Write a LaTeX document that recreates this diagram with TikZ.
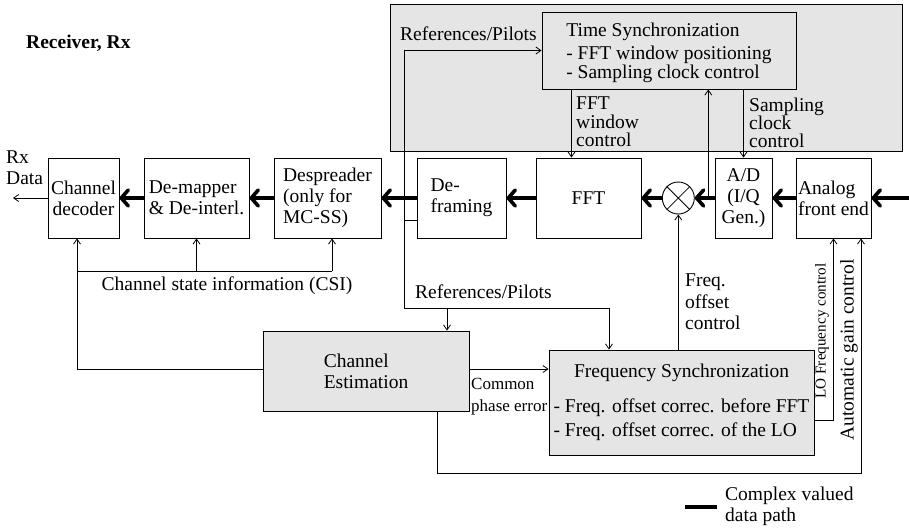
\documentclass[tikz,border=0pt]{standalone}
\usepackage{fontspec}
\setmainfont{Liberation Serif}
\usetikzlibrary{arrows.meta}
\begin{document}
\begin{tikzpicture}[x=1pt,y=-1pt,
  every node/.style={font=\fontsize{19.5}{21}\selectfont, inner sep=2pt},
  blk/.style={draw, line width=0.9pt, fill=white, align=left},
  gblk/.style={blk, fill=gray!20},
  sig/.style={line width=0.8pt},
  sigar/.style={sig, -{Straight Barb[length=5pt,width=7pt]}},
  dp/.style={line width=3.6pt, -{Straight Barb[length=7pt,width=16pt,round]}},
  lbl/.style={align=left, anchor=west},
]
\useasboundingbox (0,0) rectangle (909,531);

% time synchronization region
\node[draw, line width=0.9pt, fill=gray!20, minimum width=512pt, minimum height=147pt, inner sep=0pt] (tsreg) at (646,77.5) {};
\node[gblk, minimum width=254pt, minimum height=77pt, font=\fontsize{19.5}{19.5}\selectfont] (ts) at (669,50.5)
  {\rule{0pt}{19pt}Time Synchronization\\[3pt]- FFT window positioning\\- Sampling clock control};

% data path row
\node[blk, align=center, minimum width=71pt, minimum height=80pt] (dec) at (83.5,198) {Channel\\decoder};
\node[blk, minimum width=105pt, minimum height=80pt] (demap) at (196.5,198) {De-mapper\\\& De-interl.};
\node[blk, minimum width=107pt, minimum height=80pt] (desp) at (327.5,198) {Despreader\\(only for\\MC-SS)};
\node[blk, minimum width=89pt, minimum height=80pt] (defr) at (461.5,198) {De-\\framing};
\node[blk, minimum width=105pt, minimum height=80pt] (fft) at (588.5,198) {FFT};
\node[draw, circle, line width=0.9pt, fill=white, minimum size=32pt, inner sep=0pt] (mult) at (678.3,198) {};
\draw[line width=0.8pt] (mult.north west) -- (mult.south east) (mult.north east) -- (mult.south west);
\node[blk, align=center, minimum width=57pt, minimum height=80pt] (ad) at (743.5,198) {A/D\\(I/Q\\Gen.)};
\node[blk, minimum width=75pt, minimum height=80pt] (afe) at (833.5,198) {Analog\\front end};

% lower blocks
\node[gblk, minimum width=206pt, minimum height=80pt] (ce) at (366,371) {Channel\\Estimation};
\node[gblk, minimum width=265pt, minimum height=105pt] (fs) at (681.5,402.5)
  {\begin{tabular}{@{}l@{}}\multicolumn{1}{@{}c@{}}{Frequency Synchronization}\\[14pt]
   - Freq. offset correc. before FFT\\[3pt]
   - Freq. offset correc. of the LO\end{tabular}};

% labels
\node[anchor=west, font={\fontsize{19.5}{21}\selectfont\bfseries}] (title) at (24,43) {Receiver, Rx};
\node[lbl] (rxd) at (4,167.5) {Rx\\Data};
\node[lbl] (refs1) at (398,34) {References/Pilots};
\node[lbl, font=\fontsize{19.5}{18.5}\selectfont] (fwc) at (574,122) {FFT\\window\\control};
\node[lbl, font=\fontsize{19.5}{18}\selectfont] (scc) at (747,123) {Sampling\\clock\\control};
\node[lbl, font=\fontsize{19.5}{21.7}\selectfont] (foc) at (683,302) {Freq.\\offset\\control};
\node (csi) at (227,286) {Channel state information (CSI)};
\node[lbl] (refs2) at (413,292) {References/Pilots};
\node[lbl, font=\fontsize{17}{22}\selectfont] (cpe) at (469,397) {Common\\phase error};
\node[rotate=90, font=\fontsize{15.2}{16}\selectfont] (lofc) at (822,331) {LO Frequency control};
\node[rotate=90] (agc) at (849,350) {Automatic gain control};

% legend
\coordinate (lg1) at (685,507);
\coordinate (lg2) at (717,507);
\draw[line width=3.6pt] (lg1) -- (lg2);
\node[lbl] (lgt) at (723,506) {Complex valued\\data path};

% data path connectors
\coordinate (in) at (909,198);
\draw[dp] (in) -- (afe.east);
\draw[dp] (afe.west) -- (ad.east);
\draw[dp] (ad.west) -- (mult.east);
\draw[dp] (mult.west) -- (fft.east);
\draw[dp] (fft.west) -- (defr.east);
\draw[dp] (defr.west) -- (desp.east);
\draw[dp] (desp.west) -- (demap.east);
\draw[dp] (demap.west) -- (dec.east);
\coordinate (rxout) at (13,198);
\draw[sigar] (dec.west) -- (rxout);

% references / pilots
\coordinate (rp) at (404,308);
\coordinate (tap) at (404,220);
\coordinate (rq) at (609,308);
\coordinate (rce) at (447,308);
\draw[sigar] (rp) |- (ts.west);
\draw[sig] (tap) -- (tap -| defr.west);
\draw[sig] (rp) -- (rq);
\draw[sigar] (rq) -- (rq |- fs.north);
\draw[sigar] (rce) -- (rce |- ce.north);

% time sync controls
\coordinate (fwx) at (571.5,0);
\draw[sigar] (ts.south -| fwx) -- (fft.north -| fwx);
\draw[sigar] (ts.south -| ad.north) -- (ad.north);
\coordinate (tsin) at (708.3,198);
\draw[sigar] (tsin) -- (tsin |- ts.south);

% frequency sync controls
\draw[sigar] (fs.north -| mult.south) -- (mult.south);
\coordinate (lo) at (0,420);
\draw[sigar] (fs.east |- lo) -| (afe.south);
\coordinate (agc1) at (437.7,473);
\coordinate (agcx) at (861,473);
\draw[sigar] (ce.south -| agc1) |- (agcx) -- (agcx |- afe.south);

% channel estimation outputs
\coordinate (cpey) at (0,369);
\draw[sigar] (ce.east |- cpey) -- (fs.west |- cpey);
\coordinate (decx) at (77,0);
\draw[sigar] (ce.west |- cpey) -| (dec.south -| decx);
\coordinate (csil) at (77,271);
\coordinate (csir) at (332,271);
\draw[sig] (csil) -- (csir);
\draw[sigar] (csir) -- (csir |- desp.south);
\draw[sigar] (csil -| demap.south) -- (demap.south);
\end{tikzpicture}
\end{document}
